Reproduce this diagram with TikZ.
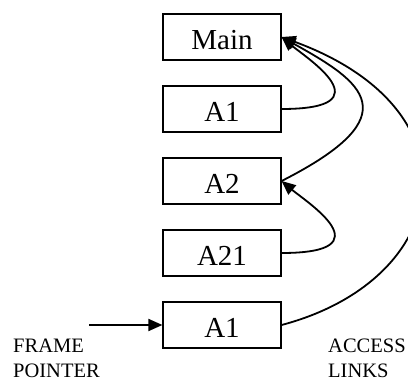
\documentclass[tikz,border=0pt]{standalone}
\usepackage{fontspec}
\setmainfont{Liberation Serif}
\usetikzlibrary{arrows.meta,positioning}

\begin{document}
\begin{tikzpicture}[x=1pt,y=1pt,
    frame/.style={draw,line width=1.2pt,minimum width=118pt,minimum height=46pt,
      font=\fontsize{29}{31}\selectfont,text height=26pt,text depth=1.5pt},
    link/.style={-{Triangle[length=14pt,width=12pt]},line width=1.8pt},
    note/.style={anchor=base west,align=left,inner sep=0pt,font=\fontsize{20.5}{25}\selectfont}]
        \useasboundingbox (0,0) rectangle (408,381);
        \foreach[count=\i] \lbl in {Main,A1,A2,A21,A1} {
            \node[frame] (f-\i) at (222,416-72*\i) {\lbl};
        }
        \coordinate (fp) at (89,56);
        \draw[link] (fp) -- (f-5);
        \node[note] (fp-txt) at (13,3) {FRAME\\POINTER};
        \node[note] (al-txt) at (328,3) {ACCESS\\LINKS};
        % access links
        \draw[link] (f-2.east) .. controls +(105,0) and +(25,-21) .. (f-1.east);
        \draw[link] (f-3.east) .. controls +(130,66) and +(81,-45) .. (f-1.east);
        \draw[link] (f-4.east) .. controls +(105,0) and +(25,-21) .. (f-3.east);
        \draw[link] (f-5.east) .. controls +(170,45) and +(202,-74) .. (f-1.east);
    \end{tikzpicture}
\end{document}
